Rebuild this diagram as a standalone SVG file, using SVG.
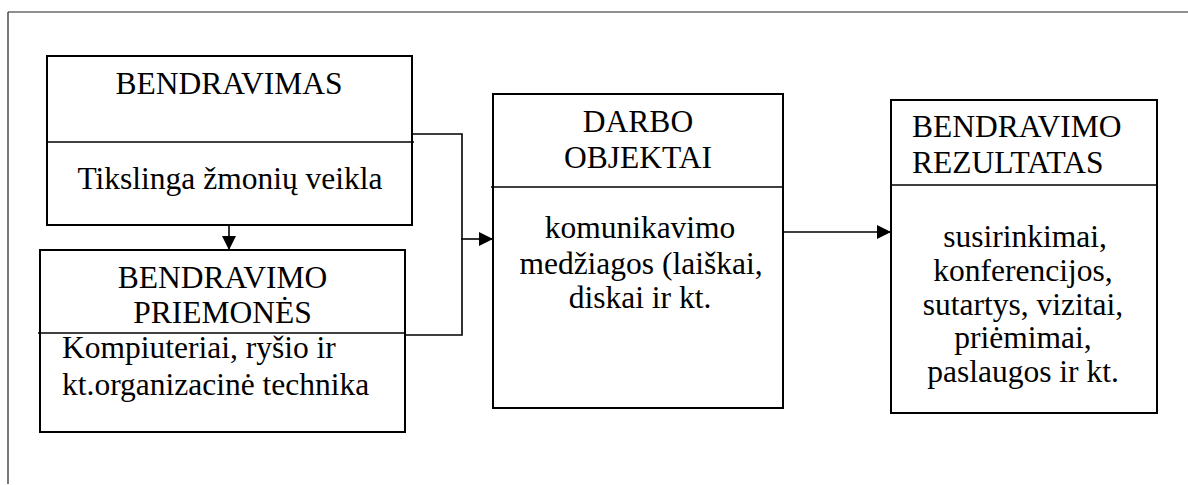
<svg xmlns="http://www.w3.org/2000/svg" width="1188" height="485" viewBox="0 0 1188 485">
<style>
.box{fill:#fff;stroke:#000;stroke-width:2}
.div{stroke:#000;stroke-width:1.6}
.conn{fill:none;stroke:#000;stroke-width:1.6}
text{font-family:'Liberation Serif','DejaVu Serif',serif;font-size:31.5px;fill:#000}
.c{text-anchor:middle}
</style>
<defs>
<marker id="arr" viewBox="0 0 14 14" refX="14" refY="7" markerWidth="14" markerHeight="14" markerUnits="userSpaceOnUse" orient="auto">
<path d="M0,0 L14,7 L0,14 Z" fill="#000"/>
</marker>
</defs>
<g id="frame">
<path d="M8,12 H1188 M8,12 V484" fill="none" stroke="#222" stroke-width="1.2"/>
</g>
<g id="bendravimas">
<rect class="box" x="47" y="56" width="365" height="169"/>
<line class="div" x1="47" y1="142" x2="414" y2="142"/>
<text class="c" x="229" y="94">BENDRAVIMAS</text>
<text class="c" x="230" y="189">Tikslinga žmonių veikla</text>
</g>
<g id="priemones">
<rect class="box" x="40" y="250" width="365" height="182"/>
<line class="div" x1="38" y1="333" x2="405" y2="333"/>
<text class="c" x="222.5" y="288">BENDRAVIMO</text>
<text class="c" x="222.5" y="323">PRIEMONĖS</text>
<text x="62" y="358">Kompiuteriai, ryšio ir</text>
<text x="62" y="395">kt.organizacinė technika</text>
</g>
<g id="darbo">
<rect class="box" x="493" y="94" width="290" height="314"/>
<line class="div" x1="491" y1="187" x2="783" y2="187"/>
<text class="c" x="638" y="132">DARBO</text>
<text class="c" x="638" y="168">OBJEKTAI</text>
<text class="c" x="640" y="238">komunikavimo</text>
<text class="c" x="641" y="274">medžiagos (laiškai,</text>
<text class="c" x="640" y="308">diskai ir kt.</text>
</g>
<g id="rezultatas">
<rect class="box" x="891" y="100" width="266" height="313"/>
<line class="div" x1="891" y1="185" x2="1157" y2="185"/>
<text x="912" y="137">BENDRAVIMO</text>
<text x="912" y="173">REZULTATAS</text>
<text class="c" x="1025" y="247">susirinkimai,</text>
<text class="c" x="1023" y="281">konferencijos,</text>
<text class="c" x="1023" y="315">sutartys, vizitai,</text>
<text class="c" x="1023" y="348">priėmimai,</text>
<text class="c" x="1023" y="382">paslaugos ir kt.</text>
</g>
<g id="connectors">
<path class="conn" d="M412,134 H462 V335 H405"/>
<path class="conn" d="M461,239 H493" marker-end="url(#arr)"/>
<path class="conn" d="M229,225 V250" marker-end="url(#arr)"/>
<path class="conn" d="M783,232 H891" marker-end="url(#arr)"/>
</g>
</svg>
